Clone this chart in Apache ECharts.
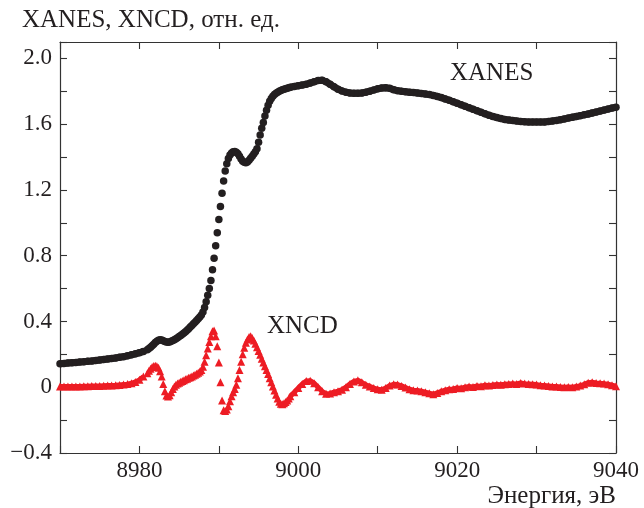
<!DOCTYPE html>
<html>
<head>
<meta charset="utf-8">
<script src="https://cdn.jsdelivr.net/npm/echarts@6/dist/echarts.min.js"></script>
<style>
  html, body { margin: 0; padding: 0; background: #fff; }
  #chart { width: 644px; height: 508px; }
</style>
</head>
<body>
<div id="chart"></div>
<script>
// сетка по энергии: начало и шаг каждого участка, эВ
var lowStart = 8970, lowStep = 0.5;    // 8970 .. 8980.5
var edgeStart = 8981, edgeStep = 0.2;  // 8981 .. 8998.8
var highStart = 8999, highStep = 0.5;  // 8999 .. 9040

// XANES, отн. ед.
var xanesLow = [0.143, 0.145, 0.147, 0.149, 0.151, 0.153, 0.155, 0.158, 0.160, 0.163, 0.166,
  0.169, 0.172, 0.175, 0.178, 0.182, 0.186, 0.191, 0.197, 0.203, 0.210, 0.218];
var xanesEdge = [
  0.228, 0.235, 0.243, 0.252, 0.262,
  0.272, 0.280, 0.286, 0.289, 0.288,
  0.283, 0.278, 0.275, 0.274, 0.275,
  0.280, 0.284, 0.289, 0.295, 0.301,
  0.308, 0.315, 0.322, 0.330, 0.338,
  0.347, 0.356, 0.366, 0.376, 0.386,
  0.396, 0.406, 0.417, 0.428, 0.440,
  0.458, 0.485, 0.520, 0.560, 0.600,
  0.650, 0.715, 0.785, 0.860, 0.940,
  1.020, 1.100, 1.180, 1.255, 1.315,
  1.360, 1.392, 1.412, 1.425, 1.432,
  1.434, 1.430, 1.420, 1.405, 1.388,
  1.375, 1.368, 1.366, 1.370, 1.380,
  1.393, 1.405, 1.418, 1.432, 1.450,
  1.490, 1.535, 1.575, 1.610, 1.650,
  1.685, 1.715, 1.740, 1.757, 1.770,
  1.780, 1.788, 1.795, 1.800, 1.805,
  1.809, 1.813, 1.816, 1.819, 1.822
];
var xanesHigh = [
  1.825, 1.830, 1.834, 1.838, 1.843, 1.850, 1.858, 1.866, 1.867, 1.858,
  1.843, 1.828, 1.813, 1.802, 1.795, 1.790, 1.788, 1.788, 1.790, 1.795,
  1.801, 1.808, 1.815, 1.820, 1.822, 1.818, 1.810, 1.804, 1.800, 1.797,
  1.795, 1.793, 1.790, 1.787, 1.784, 1.780, 1.775, 1.769, 1.762, 1.754,
  1.746, 1.737, 1.727, 1.718, 1.709, 1.700, 1.691, 1.682, 1.673, 1.664,
  1.655, 1.647, 1.640, 1.634, 1.629, 1.625, 1.622, 1.619, 1.617, 1.615,
  1.614, 1.613, 1.613, 1.613, 1.614, 1.616, 1.619, 1.623, 1.627, 1.632,
  1.637, 1.642, 1.647, 1.652, 1.657, 1.662, 1.668, 1.674, 1.680, 1.686,
  1.692, 1.698, 1.703
];

// XNCD, отн. ед.
var xncdLow = [0.005, 0.005, 0.005, 0.005, 0.005, 0.005, 0.006, 0.006, 0.007, 0.007, 0.008,
  0.009, 0.010, 0.011, 0.012, 0.014, 0.016, 0.019, 0.024, 0.032, 0.045, 0.065];
var xncdEdge = [
  0.085, 0.100, 0.113, 0.123, 0.129,
  0.131, 0.128, 0.118, 0.098, 0.065,
  0.020, -0.025, -0.050, -0.056, -0.048,
  -0.030, -0.010, 0.005, 0.015, 0.022,
  0.028, 0.033, 0.038, 0.043, 0.048,
  0.052, 0.057, 0.061, 0.066, 0.071,
  0.076, 0.082, 0.088, 0.095, 0.105,
  0.125, 0.155, 0.195, 0.235, 0.275,
  0.310, 0.340, 0.345, 0.310, 0.250,
  0.150, 0.030, -0.080, -0.140, -0.145,
  -0.135, -0.115, -0.085, -0.055, -0.030,
  -0.010, 0.015, 0.055, 0.105, 0.155,
  0.200, 0.240, 0.270, 0.290, 0.305,
  0.310, 0.300, 0.285, 0.265, 0.243,
  0.220, 0.197, 0.173, 0.150, 0.127,
  0.105, 0.080, 0.055, 0.030, 0.005,
  -0.020, -0.045, -0.068, -0.088, -0.100,
  -0.103, -0.098, -0.090, -0.080, -0.068
];
var xncdHigh = [
  -0.055, -0.030, -0.005, 0.020, 0.038, 0.040, 0.025, 0.000, -0.025, -0.040,
  -0.038, -0.030, -0.024, -0.015, 0.000, 0.020, 0.035, 0.042, 0.030, 0.015,
  0.005, -0.005, -0.012, -0.015, -0.005, 0.010, 0.018, 0.016, 0.008, -0.002,
  -0.012, -0.018, -0.020, -0.024, -0.030, -0.036, -0.042, -0.035, -0.025, -0.018,
  -0.012, -0.010, -0.004, -0.006, 0.000, 0.004, 0.002, 0.008, 0.006, 0.012,
  0.010, 0.014, 0.016, 0.015, 0.018, 0.020, 0.022, 0.020, 0.026, 0.022,
  0.020, 0.018, 0.016, 0.012, 0.010, 0.008, 0.005, 0.004, 0.002, 0.000,
  0.002, 0.000, 0.004, 0.010, 0.018, 0.028, 0.030, 0.026, 0.024, 0.022,
  0.018, 0.012, 0.006
];

// подписи
var yTitle = 'XANES, XNCD, отн. ед.';
var xTitle = 'Энергия, эВ';
var nameXanes = 'XANES';
var nameXncd = 'XNCD';

function toPoints(start, step, values) {
  return values.map(function (v, i) {
    return [Math.round((start + i * step) * 100) / 100, v];
  });
}
function joinSeg(low, edge, high) {
  return toPoints(lowStart, lowStep, low)
    .concat(toPoints(edgeStart, edgeStep, edge))
    .concat(toPoints(highStart, highStep, high));
}

var font = '"Liberation Serif", serif';
var ink = '#231f20';
var red = '#ed1c24';
var axisColor = '#333';

var chart = echarts.init(document.getElementById('chart'));

function xAxisCfg(pos) {
  return {
    type: 'value',
    position: pos,
    min: 8970, max: 9040, interval: 10,
    axisLine: { show: true, onZero: false, lineStyle: { color: axisColor, width: 1.2 } },
    axisTick: { show: true, inside: true, length: 7, lineStyle: { color: axisColor, width: 1.1 } },
    axisLabel: {
      show: pos === 'bottom',
      margin: 6,
      fontFamily: font, fontSize: 23, color: ink,
      formatter: function (v) { return v % 20 === 0 ? String(v) : ''; }
    },
    splitLine: { show: false }
  };
}
function yAxisCfg(pos) {
  return {
    type: 'value',
    position: pos,
    min: -0.4, max: 2.1, interval: 0.2,
    axisLine: { show: true, onZero: false, lineStyle: { color: axisColor, width: 1.2 } },
    axisTick: { show: true, inside: true, length: 7, lineStyle: { color: axisColor, width: 1.1 } },
    axisLabel: {
      show: pos === 'left',
      margin: 8,
      fontFamily: font, fontSize: 23, color: ink,
      formatter: function (v) {
        var k = Math.round(v / 0.4);
        if (Math.abs(k * 0.4 - v) > 1e-6) return '';
        if (k === 0) return '0';
        return (k < 0 ? '\u2212' : '') + Math.abs(k * 0.4).toFixed(1);
      }
    },
    splitLine: { show: false }
  };
}

// плотная полоса точек на гладких участках: линия под маркерами
function band(values, start, step, color, w) {
  return {
    type: 'line',
    data: toPoints(start, step, values),
    showSymbol: false,
    symbol: 'none',
    silent: true,
    lineStyle: { color: color, width: w },
    z: 1
  };
}

function label(text, pos) {
  pos.text = text;
  pos.padding = 0;
  pos.textStyle = { fontFamily: font, fontSize: 25, fontWeight: 'normal', color: ink };
  return pos;
}

var option = {
  animation: false,
  backgroundColor: '#fff',
  textStyle: { fontFamily: font },
  grid: { left: 60, right: 28, top: 42, bottom: 55, outerBoundsMode: 'none' },
  title: [
    label(yTitle, { left: 22, top: 8 }),
    label(xTitle, { right: 28, top: 484 }),
    label(nameXanes, { left: 450, top: 61 }),
    label(nameXncd, { left: 267, top: 314 })
  ],
  xAxis: [xAxisCfg('bottom'), xAxisCfg('top')],
  yAxis: [yAxisCfg('left'), yAxisCfg('right')],
  series: [
    band(xanesLow, lowStart, lowStep, ink, 7),
    band(xanesHigh, highStart, highStep, ink, 7),
    band(xncdLow, lowStart, lowStep, red, 5),
    band(xncdHigh, highStart, highStep, red, 5),
    {
      name: nameXanes,
      type: 'scatter',
      symbol: 'circle',
      symbolSize: 7.5,
      itemStyle: { color: ink, opacity: 1 },
      z: 2,
      data: joinSeg(xanesLow, xanesEdge, xanesHigh)
    },
    {
      name: nameXncd,
      type: 'scatter',
      symbol: 'triangle',
      symbolSize: 8,
      itemStyle: { color: red, opacity: 1 },
      z: 2,
      data: joinSeg(xncdLow, xncdEdge, xncdHigh)
    }
  ]
};

chart.setOption(option);
window.addEventListener('resize', function () { chart.resize(); });
</script>
</body>
</html>
